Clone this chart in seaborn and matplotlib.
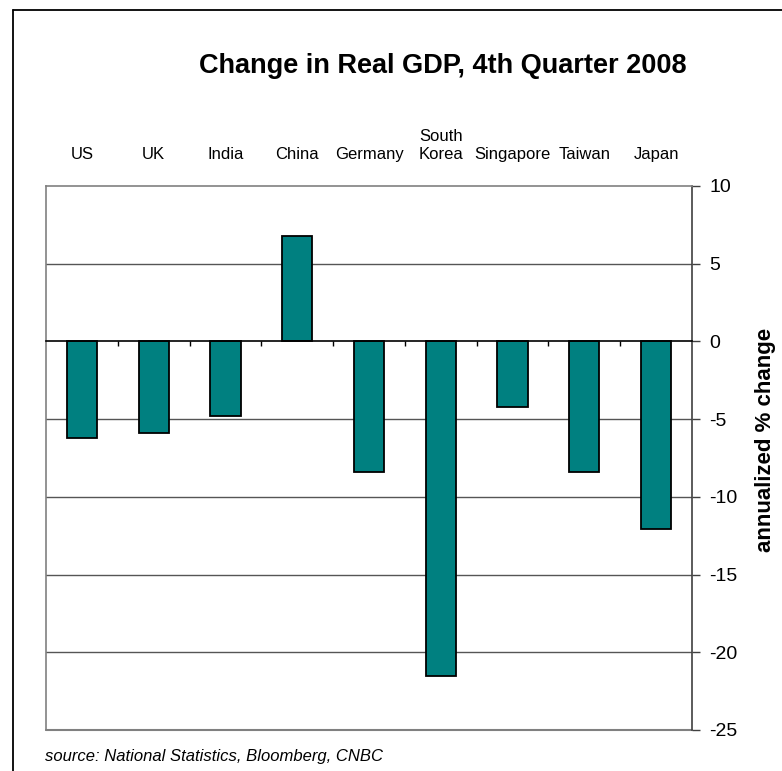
import matplotlib
matplotlib.use("Agg")
import matplotlib.pyplot as plt
from matplotlib.lines import Line2D
from matplotlib.ticker import FixedLocator
import seaborn as sns
import pandas as pd

# ---- data ----
countries = ["US", "UK", "India", "China", "Germany", "South\nKorea",
             "Singapore", "Taiwan", "Japan"]
gdp_change = [-6.2, -5.9, -4.8, 6.8, -8.4, -21.5, -4.2, -8.4, -12.1]
y_ticks = [10, 5, 0, -5, -10, -15, -20, -25]
title = "Change in Real GDP, 4th Quarter 2008"
y_label = "annualized % change"
source = "source: National Statistics, Bloomberg, CNBC"

sns.set_style("white")
plt.rcParams["font.family"] = ["Liberation Sans", "DejaVu Sans"]
plt.rcParams["text.color"] = "black"
plt.rcParams["xtick.color"] = "black"
plt.rcParams["ytick.color"] = "black"
plt.rcParams["xtick.labelcolor"] = "black"
plt.rcParams["ytick.labelcolor"] = "black"

df = pd.DataFrame({"country": countries, "value": gdp_change})

W, H = 782, 771
fig = plt.figure(figsize=(W / 100, H / 100), dpi=100)
ax = fig.add_axes([46 / W, 1 - 730 / H, (692 - 46) / W, (730 - 186) / H])

sns.barplot(data=df, x="country", y="value", color="#008080",
            saturation=1, edgecolor="black", linewidth=1.3, width=0.42, ax=ax)
for p in ax.patches:
    p.set_zorder(3)

ax.set_ylim(-25, 10)
ax.set_xlim(-0.5, len(countries) - 0.5)

# gridlines
for t in y_ticks:
    if t not in (0, 10, -25):
        ax.axhline(t, color="#555555", linewidth=1.0, zorder=1)

# spines
for s in ["left", "top"]:
    ax.spines[s].set_color("#808080")
    ax.spines[s].set_linewidth(1.2)
ax.spines["right"].set_color("#404040")
ax.spines["right"].set_linewidth(1.2)
ax.spines["bottom"].set_position(("data", 0))
ax.spines["bottom"].set_color("black")
ax.spines["bottom"].set_linewidth(1.2)
ax.spines["bottom"].set_zorder(4)
ax.axhline(-25, color="#808080", linewidth=1.5, clip_on=False, zorder=2)

# y axis on the right
ax.yaxis.tick_right()
ax.set_yticks(y_ticks)
ax.set_yticklabels([str(t) for t in y_ticks])
ax.tick_params(axis="y", which="major", right=True, left=False, direction="out",
               length=5.5, width=1.0, color="#404040", labelsize=14, pad=7,
               labelcolor="black")
ax.set_ylabel("")

# x axis: labels on top, boundary ticks on zero line
ax.set_xlabel("")
ax.tick_params(axis="x", which="major", top=False, bottom=False,
               labeltop=True, labelbottom=False, labelsize=12, pad=14,
               labelcolor="black")
ax.xaxis.set_minor_locator(FixedLocator([i + 0.5 for i in range(len(countries) - 1)]))
ax.tick_params(axis="x", which="minor", bottom=True, top=False, direction="out",
               length=3.5, width=1.0, color="black")

# texts
fig.text(443 / W, 1 - 66 / H, title, ha="center", va="center",
         fontsize=19.5, fontweight="bold", color="black")
fig.text(766 / W, 1 - 440 / H, y_label, ha="center", va="center",
         rotation=90, fontsize=16, fontweight="bold", color="black")
fig.text(45 / W, 1 - 756 / H, source, ha="left", va="center",
         fontsize=12, fontstyle="italic", color="black")

# outer border (top and left visible)
fig.add_artist(Line2D([13 / W, 1.0], [1 - 10 / H, 1 - 10 / H],
                      transform=fig.transFigure, color="black", linewidth=1.3))
fig.add_artist(Line2D([13 / W, 13 / W], [1 - 10 / H, 0.0],
                      transform=fig.transFigure, color="black", linewidth=1.3))

fig.savefig("out.png", dpi=100)
